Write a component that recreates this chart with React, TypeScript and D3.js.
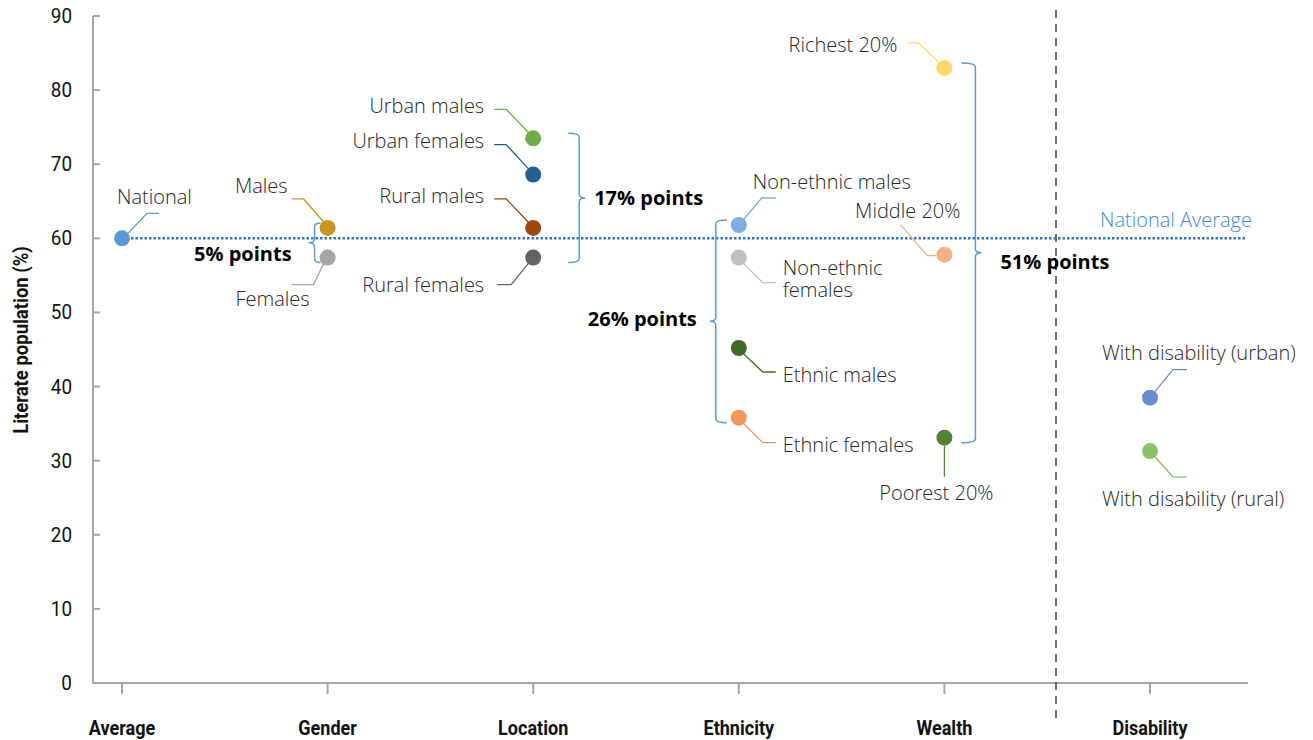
import React from "react";
import * as d3 from "d3";

// ---------- data ----------
const categories = ["Average", "Gender", "Location", "Ethnicity", "Wealth", "Disability"];
const yTicks = [0, 10, 20, 30, 40, 50, 60, 70, 80, 90];

const pointLabels = [
  "National", "Males", "Females",
  "Urban males", "Urban females", "Rural males", "Rural females",
  "Non-ethnic males", "Non-ethnic females", "Ethnic males", "Ethnic females",
  "Richest 20%", "Middle 20%", "Poorest 20%",
  "With disability (urban)", "With disability (rural)",
];
const pointCategories = [
  "Average", "Gender", "Gender",
  "Location", "Location", "Location", "Location",
  "Ethnicity", "Ethnicity", "Ethnicity", "Ethnicity",
  "Wealth", "Wealth", "Wealth",
  "Disability", "Disability",
];
const pointValues = [
  60.0, 61.4, 57.4,
  73.5, 68.6, 61.4, 57.4,
  61.8, 57.4, 45.2, 35.8,
  83.0, 57.8, 33.1,
  38.5, 31.3,
];
const nationalAverage = 60.0;

const gapLabels = ["5% points", "17% points", "26% points", "51% points"];
const gapFrom = ["Males", "Urban males", "Non-ethnic males", "Richest 20%"];
const gapTo = ["Females", "Rural females", "Ethnic females", "Poorest 20%"];

// ---------- styles / layout ----------
const pointColors = [
  "#5b9bd5", "#c8961e", "#a6a6a6",
  "#70ad47", "#255e91", "#9e480e", "#636363",
  "#7cafdd", "#bfbfbf", "#43682b", "#f1975a",
  "#ffd966", "#f4b183", "#548235",
  "#698ed0", "#8cc168",
];

type Lay = { lead: [number, number][]; tx: number; ty: number; anchor: string; lines?: string[] };
const layouts: Lay[] = [
  { lead: [[6, -5], [25, -25], [37, -25]], tx: -5, ty: -34, anchor: "start" },
  { lead: [[-4, -6], [-24, -29], [-36, -29]], tx: -40, ty: -35, anchor: "end" },
  { lead: [[-4, 6], [-14, 27], [-36, 27]], tx: -18, ty: 48, anchor: "end" },
  { lead: [[-5, -6], [-27, -29], [-39, -29]], tx: -49, ty: -25, anchor: "end" },
  { lead: [[-5, -6], [-27, -30], [-39, -30]], tx: -49, ty: -27, anchor: "end" },
  { lead: [[-5, -6], [-27, -29], [-39, -29]], tx: -49, ty: -25, anchor: "end" },
  { lead: [[-5, 6], [-22, 27], [-36, 27]], tx: -49, ty: 34, anchor: "end" },
  { lead: [[5, -6], [23, -27], [37, -27]], tx: 14, ty: -36, anchor: "start" },
  { lead: [[5, 6], [24, 25], [37, 25]], tx: 44, ty: 17, anchor: "start", lines: ["Non-ethnic", "females"] },
  { lead: [[5, 6], [24, 24], [37, 24]], tx: 44, ty: 34, anchor: "start" },
  { lead: [[5, 6], [24, 25], [37, 25]], tx: 44, ty: 34, anchor: "start" },
  { lead: [[-6, -6], [-26, -25], [-36, -25]], tx: -47, ty: -16, anchor: "end" },
  { lead: [[-8, 1], [-17, 1], [-44, -30]], tx: 16, ty: -37, anchor: "end" },
  { lead: [[0, 8], [0, 39]], tx: -8, ty: 62, anchor: "middle" },
  { lead: [[5, -6], [23, -28], [37, -28]], tx: -48, ty: -38, anchor: "start" },
  { lead: [[5, 6], [23, 26], [37, 26]], tx: -48, ty: 55, anchor: "start" },
];

// bracket x offset from point column, stub direction, mid-tick direction, label offsets (relative to bracket)
const bracketLayout = [
  { dx: -13, stub: 6, dir: -1, lx: -23, ly: 18 },
  { dx: 46, stub: -11, dir: 1, lx: 15, ly: 7 },
  { dx: -23, stub: 11, dir: -1, lx: -19, ly: 5 },
  { dx: 31, stub: -14, dir: 1, lx: 25, ly: 16 },
];

const W = 1313;
const H = 740;
const axisLeft = 93;
const axisRight = 1248;
const y0 = 683;
const y90 = 16;

const labelFont = "'Open Sans', 'Noto Sans', sans-serif";
const condFont = "Roboto, 'Liberation Sans', sans-serif";

function CondText(props: {
  x: number; y: number; anchor: string; size: number; sx: number; bold?: boolean; rotate?: number; children: React.ReactNode;
}) {
  const { x, y, anchor, size, sx, bold, rotate = 0, children } = props;
  return (
    <text
      transform={`translate(${x},${y}) rotate(${rotate}) scale(${sx},1)`}
      textAnchor={anchor}
      fontFamily={condFont}
      fontWeight={bold ? 700 : 400}
      fontSize={size}
      fill="#111"
    >
      {children}
    </text>
  );
}

export default function App() {
  const x = d3.scalePoint<string>().domain(categories).range([122, 1150]);
  const y = d3.scaleLinear().domain([0, 90]).range([y0, y90]);
  const line = d3.line();

  const pts = pointLabels.map((l, i) => ({
    label: l,
    cx: x(pointCategories[i]) as number,
    cy: y(pointValues[i]),
    color: pointColors[i],
    lay: layouts[i],
  }));
  const byName = (n: string) => pts[pointLabels.indexOf(n)];

  return (
    <svg width={W} height={H} style={{ position: "absolute", left: 0, top: 0, background: "#fff" }}>
      {/* axes */}
      <line x1={axisLeft} x2={axisLeft} y1={y90} y2={y0} stroke="#a6a6a6" strokeWidth={2} />
      <line x1={axisLeft - 1} x2={axisRight} y1={y0} y2={y0} stroke="#a6a6a6" strokeWidth={2} />
      {yTicks.map((t) => (
        <g key={t}>
          <line x1={axisLeft} x2={axisLeft + 7} y1={y(t)} y2={y(t)} stroke="#a6a6a6" strokeWidth={2} />
          <CondText x={72} y={y(t) + 7} anchor="end" size={21} sx={0.9}>
            {t}
          </CondText>
        </g>
      ))}
      {categories.map((c) => (
        <g key={c}>
          <line x1={x(c)} x2={x(c)} y1={y0} y2={y0 + 11} stroke="#a6a6a6" strokeWidth={2} />
          <CondText x={x(c) as number} y={735} anchor="middle" size={21} sx={0.86} bold>
            {c}
          </CondText>
        </g>
      ))}
      <CondText x={28} y={340} anchor="middle" size={21} sx={0.88} bold rotate={-90}>
        Literate population (%)
      </CondText>

      {/* separator */}
      <line x1={1056} x2={1056} y1={10} y2={718} stroke="#404040" strokeWidth={1.5} strokeDasharray="8 6" />

      {/* national average */}
      <line
        x1={x("Average")}
        x2={1245}
        y1={y(nationalAverage)}
        y2={y(nationalAverage)}
        stroke="#2e75c6"
        strokeWidth={2.5}
        strokeDasharray="2.5 2"
      />
      <text x={1252} y={y(nationalAverage) - 11} textAnchor="end" fontFamily={labelFont} fontWeight={300} fontSize={20} fill="#3f8bd6">
        National Average
      </text>

      {/* brackets */}
      {gapLabels.map((g, i) => {
        const a = byName(gapFrom[i]);
        const b = byName(gapTo[i]);
        const bl = bracketLayout[i];
        const bx = a.cx + bl.dx;
        const top = a.cy - 5;
        const bot = b.cy + 5;
        const mid = (top + bot) / 2;
        const d = `M${bx + bl.stub},${top} Q${bx},${top} ${bx},${top + 4} L${bx},${mid - 4} Q${bx},${mid} ${bx + bl.dir * 6},${mid} Q${bx},${mid} ${bx},${mid + 4} L${bx},${bot - 4} Q${bx},${bot} ${bx + bl.stub},${bot}`;
        return (
          <g key={g}>
            <path d={d} fill="none" stroke="#5b9bd5" strokeWidth={1.5} />
            <text
              x={bx + bl.lx}
              y={mid + bl.ly}
              textAnchor={bl.dir > 0 ? "start" : "end"}
              fontFamily={labelFont}
              fontWeight={700}
              fontSize={20}
              fill="#000"
            >
              {g}
            </text>
          </g>
        );
      })}

      {/* leaders, points, labels */}
      {pts.map((p) => (
        <g key={p.label}>
          <path
            d={line(p.lay.lead.map(([dx, dy]) => [p.cx + dx, p.cy + dy]) as [number, number][]) || ""}
            fill="none"
            stroke={p.color}
            strokeWidth={1.3}
          />
          <circle cx={p.cx} cy={p.cy} r={8} fill={p.color} />
          {(p.lay.lines || [p.label]).map((ln, k) => (
            <text
              key={k}
              x={p.cx + p.lay.tx}
              y={p.cy + p.lay.ty + k * 22}
              textAnchor={p.lay.anchor}
              fontFamily={labelFont}
              fontWeight={300}
              fontSize={20}
              fill="#262626"
            >
              {ln}
            </text>
          ))}
        </g>
      ))}
    </svg>
  );
}
